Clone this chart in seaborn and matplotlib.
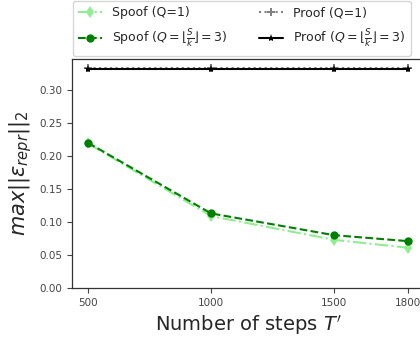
import matplotlib
matplotlib.use("Agg")
import matplotlib.pyplot as plt
import seaborn as sns
import numpy as np

steps = [500, 1000, 1500, 1800]
spoof_q1 = [0.219, 0.109, 0.073, 0.061]
spoof_q3 = [0.220, 0.113, 0.080, 0.071]
proof_q1 = [0.333, 0.333, 0.333, 0.333]
proof_q3 = [0.332, 0.332, 0.332, 0.332]
yticks = [0.00, 0.05, 0.10, 0.15, 0.20, 0.25, 0.30]

sns.set_style("ticks")
plt.rcParams['font.family'] = ['DejaVu Sans']

fig = plt.figure(figsize=(4.2, 3.37), dpi=100)
ax = fig.add_axes([72/420, 1-288/337, 352/420, (288-59)/337])

sns.lineplot(x=steps, y=spoof_q1, ax=ax, color='lightgreen', linestyle='-.', marker='d',
             markersize=6, markeredgewidth=0, label='Spoof (Q=1)')
sns.lineplot(x=steps, y=spoof_q3, ax=ax, color='green', linestyle='--', marker='o',
             markersize=6, markeredgewidth=0, label=r'Spoof ($Q=\lfloor\frac{S}{k}\rfloor=3$)')
sns.lineplot(x=steps, y=proof_q1, ax=ax, color='gray', linestyle=':', marker='P',
             markersize=6, markeredgewidth=0, label='Proof (Q=1)')
sns.lineplot(x=steps, y=proof_q3, ax=ax, color='black', linestyle='-', marker='*',
             markersize=6, markeredgewidth=0, label=r'Proof ($Q=\lfloor\frac{S}{k}\rfloor=3$)')

ax.set_xlim(435, 1865)
ax.set_ylim(0, 0.347)
ax.set_xticks(steps)
ax.set_yticks(yticks)
ax.tick_params(labelsize=7.5, colors='#444444', length=3.5)
for s in ax.spines.values():
    s.set_color('#333333')
    s.set_linewidth(0.9)

ax.set_xlabel(r"Number of steps $T'$", fontsize=14)
ax.set_ylabel(r"$max||\epsilon_{repr}||_2$", fontsize=15)

ax.legend(loc='lower left', bbox_to_anchor=(-0.005, 1.003), ncol=2, fontsize=9,
          frameon=True, columnspacing=2.5, handlelength=1.9, borderaxespad=0.2,
          labelspacing=0.65, borderpad=0.45)

fig.savefig("out.png", dpi=100)
